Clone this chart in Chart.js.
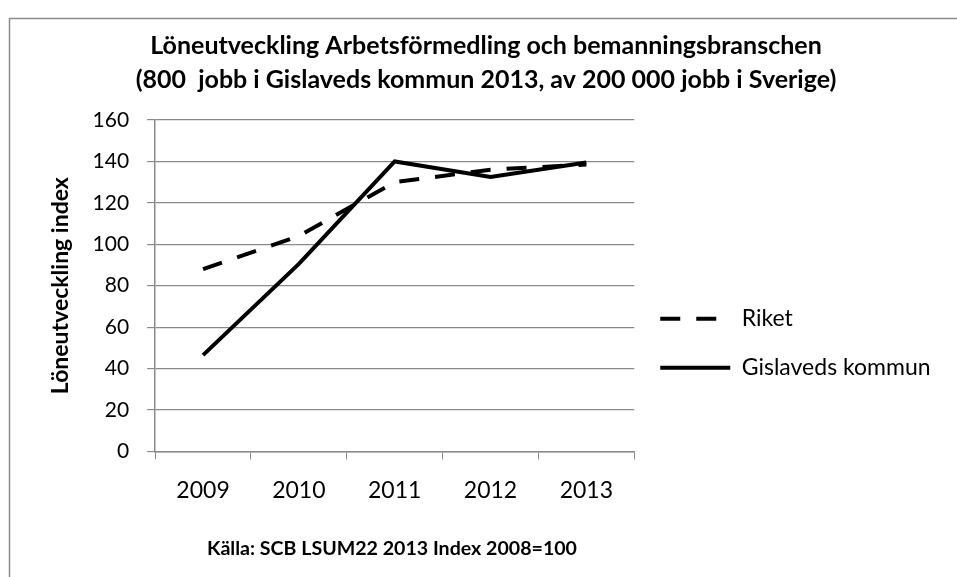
<!DOCTYPE html>
<html>
<head>
<meta charset="utf-8">
<script src="https://cdn.jsdelivr.net/npm/chart.js@4/dist/chart.umd.min.js"></script>
<style>
  html, body { margin: 0; padding: 0; background: #fff; }
  #wrap { position: relative; width: 957px; height: 577px; }
</style>
</head>
<body>
<div id="wrap"><canvas id="c" width="957" height="577"></canvas></div>
<script>
const categories = ['2009', '2010', '2011', '2012', '2013'];
const riketValues = [88, 104, 130, 136, 138.5];
const gislavedValues = [46.5, 90.5, 140, 132.5, 139.5];
const seriesNames = ['Riket', 'Gislaveds kommun'];
const titleLines = ['Löneutveckling Arbetsförmedling och bemanningsbranschen',
                    '(800  jobb i Gislaveds kommun 2013, av 200 000 jobb i Sverige)'];
const yAxisTitle = 'Löneutveckling index';
const sourceNote = 'Källa: SCB LSUM22 2013 Index 2008=100';

const FONT = 'Lato, "Open Sans", sans-serif';
const GRID = '#8a8a8a';
const dashPattern = [20, 16];

const framePlugin = {
  id: 'frame',
  afterLayout(chart) {
    // widen the legend box so its text is not clipped, and centre the title like the reference
    if (chart.legend) {
      chart.legend.right = chart.width;
      chart.legend.width = chart.legend.right - chart.legend.left;
    }
    if (chart.titleBlock) {
      chart.titleBlock.right = 946;
      chart.titleBlock.width = chart.titleBlock.right - chart.titleBlock.left;
    }
  },
  beforeDraw(chart) {
    const ctx = chart.ctx;
    ctx.save();
    ctx.strokeStyle = '#8c8c8c';
    ctx.lineWidth = 1.5;
    ctx.beginPath();
    ctx.moveTo(9.5, 577);
    ctx.lineTo(9.5, 18.5);
    ctx.lineTo(957, 18.5);
    ctx.stroke();
    ctx.restore();
  },
  afterDraw(chart) {
    const ctx = chart.ctx;
    ctx.save();
    ctx.fillStyle = '#000';
    ctx.font = 'bold 19.6px ' + FONT;
    ctx.textAlign = 'center';
    ctx.textBaseline = 'middle';
    ctx.fillText(sourceNote, 392, 549);
    ctx.restore();
  }
};

new Chart(document.getElementById('c'), {
  type: 'line',
  data: {
    labels: categories,
    datasets: [
      {
        label: seriesNames[0],
        data: riketValues,
        borderColor: '#000',
        backgroundColor: '#000',
        borderWidth: 4,
        borderDash: dashPattern,
        pointRadius: 0,
        tension: 0,
        fill: false
      },
      {
        label: seriesNames[1],
        data: gislavedValues,
        borderColor: '#000',
        backgroundColor: '#000',
        borderWidth: 4,
        pointRadius: 0,
        tension: 0,
        fill: false
      }
    ]
  },
  options: {
    responsive: false,
    animation: false,
    layout: { padding: { left: 26, right: 120, top: 29, bottom: 56 } },
    plugins: {
      title: {
        display: true,
        text: titleLines,
        color: '#000',
        font: { family: FONT, size: 25, weight: 'bold', lineHeight: 1.36 },
        padding: { top: 0, bottom: 23 }
      },
      legend: {
        display: true,
        position: 'right',
        align: 'center',
        title: { display: true, text: ' ', font: { size: 2 }, padding: { top: 134, bottom: 0 } },
        labels: {
          color: '#000',
          font: { family: FONT, size: 23 },
          usePointStyle: true,
          pointStyle: 'line',
          pointStyleWidth: 70,
          boxWidth: 70,
          boxHeight: 20,
          padding: 26,
          generateLabels(chart) {
            const items = Chart.defaults.plugins.legend.labels.generateLabels(chart);
            items.forEach(it => {
              const ds = chart.data.datasets[it.datasetIndex];
              it.lineDash = ds.borderDash || [];
              it.lineWidth = ds.borderWidth;
              it.strokeStyle = ds.borderColor;
              it.fillStyle = ds.borderColor;
              it.lineCap = 'butt';
            });
            return items;
          }
        }
      },
      tooltip: { enabled: false }
    },
    scales: {
      x: {
        offset: true,
        grid: { display: true, drawOnChartArea: false, drawTicks: true, tickLength: 8, color: GRID, offset: true },
        border: { display: true, color: GRID, width: 1.5 },
        ticks: { color: '#000', font: { family: FONT, size: 23 }, padding: 17, maxRotation: 0 }
      },
      y: {
        min: 0,
        max: 160,
        ticks: { stepSize: 20, color: '#000', font: { family: FONT, size: 21 }, padding: 18 },
        grid: { color: GRID, lineWidth: 1.2, tickLength: 8 },
        border: { display: true, color: GRID, width: 1.5 },
        title: {
          display: true,
          text: yAxisTitle,
          color: '#000',
          font: { family: FONT, size: 23, weight: 'bold' },
          padding: { top: 21, bottom: 0 }
        }
      }
    }
  },
  plugins: [framePlugin]
});
</script>
</body>
</html>
